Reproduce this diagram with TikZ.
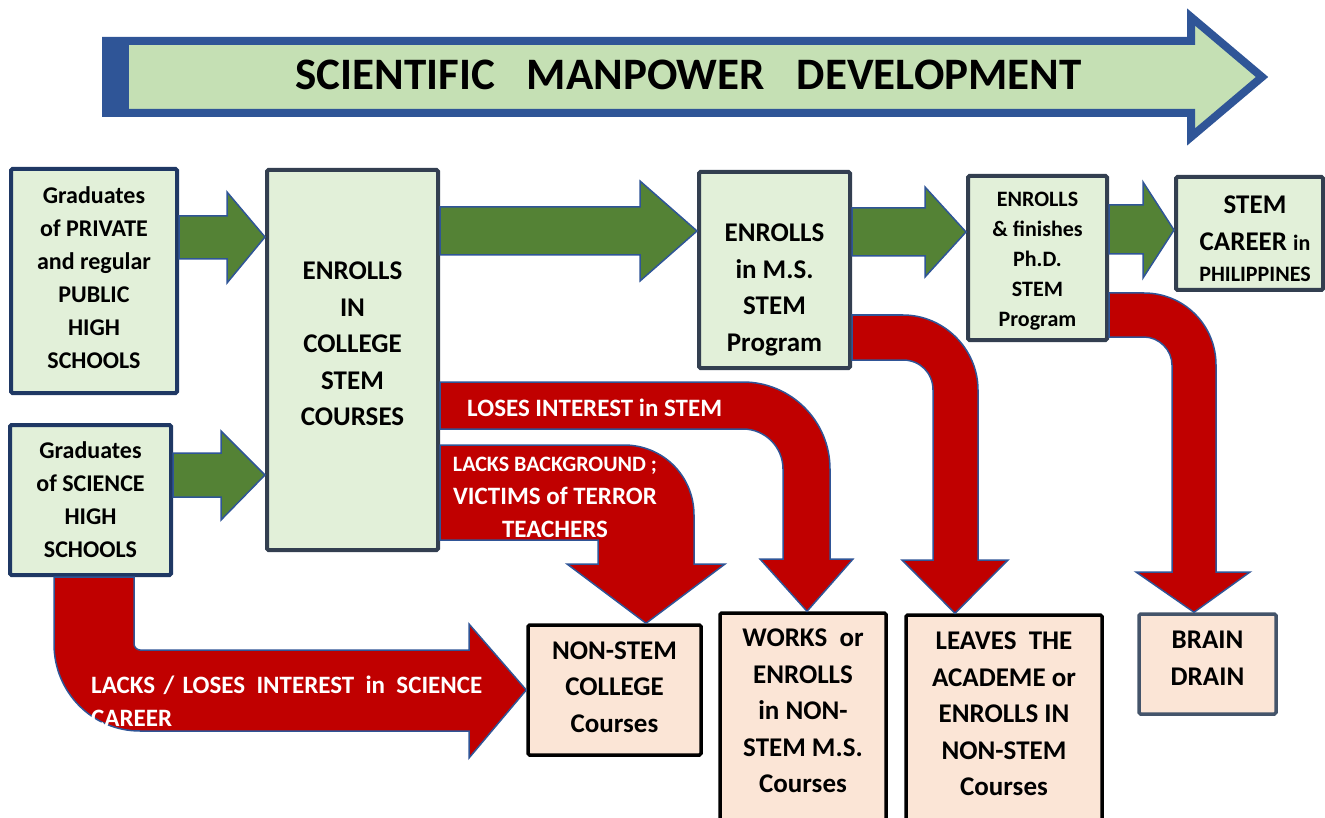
\documentclass[tikz,border=0pt]{standalone}
\usepackage{fontspec}
\setmainfont{Carlito}

\definecolor{titleblue}{HTML}{2F5597}
\definecolor{titlegreen}{HTML}{C5E0B4}
\definecolor{boxgreen}{HTML}{E2F0D9}
\definecolor{boxnavy}{HTML}{1F3864}
\definecolor{boxslate}{HTML}{333F50}
\definecolor{stemgreen}{HTML}{548235}
\definecolor{lossred}{HTML}{C00000}
\definecolor{peach}{HTML}{FBE5D6}
\definecolor{drainslate}{HTML}{44546A}

\tikzstyle{stembox} = [draw=boxslate, fill=boxgreen, line width=4pt, rounded corners=1.5pt, inner sep=0pt]
\tikzstyle{hsbox} = [stembox, draw=boxnavy]
\tikzstyle{exitbox} = [draw=black, fill=peach, line width=3.5pt, rounded corners=1.5pt, inner sep=0pt]
\tikzstyle{boxtext} = [align=center, inner sep=0pt, font=\bfseries\fontsize{27}{36.5}\selectfont]
\tikzstyle{smalltext} = [boxtext, font=\bfseries\fontsize{24}{33}\selectfont]
\tikzstyle{redtext} = [text=white, inner sep=0pt, font=\bfseries\fontsize{25}{33}\selectfont]
\tikzstyle{greenarrow} = [fill=stemgreen, draw=titleblue, line width=1.5pt]
\tikzstyle{redarrow} = [fill=lossred, draw=titleblue, line width=1.5pt]

\begin{document}
\begin{tikzpicture}[x=1pt, y=-1pt]
\useasboundingbox (0,0) rectangle (1325,818);
%\draw[step=50, very thin, black!20] (0,0) grid (1325,818);

% banner
\draw[titleblue, fill=titlegreen, line width=8pt] (106,41) -- (1191,41) -- (1191,17) -- (1262,77) -- (1191,137) -- (1191,113) -- (106,113) -- cycle;
\fill[titleblue] (102,37) rectangle (129,117);
\node[font=\bfseries\fontsize{45}{54}\selectfont, anchor=base] (banner) at (688.5,90) {SCIENTIFIC\hspace{32pt}MANPOWER\hspace{32pt}DEVELOPMENT};

% boxes
\node[hsbox, minimum width=166pt, minimum height=224pt] (private) at (94,281) {};
\node[stembox, minimum width=171pt, minimum height=380pt] (college) at (352.5,360) {};
\node[hsbox, minimum width=161pt, minimum height=150pt] (science) at (90.5,500) {};
\node[stembox, minimum width=151pt, minimum height=196pt] (msprog) at (774.5,270) {};
\node[stembox, minimum width=139pt, minimum height=164pt] (phdprog) at (1037.5,258) {};
\node[stembox, minimum width=147pt, minimum height=113pt] (career) at (1249.5,233.5) {};
\node[exitbox, minimum width=173pt, minimum height=130pt] (noncollege) at (614.5,690) {};
\node[exitbox, minimum width=166pt, minimum height=225pt] (works) at (803,725.5) {};
\node[exitbox, minimum width=196pt, minimum height=223pt] (leaves) at (1004,726.5) {};
\node[exitbox, draw=drainslate, minimum width=137pt, minimum height=100pt] (brain) at (1207.5,664) {};

% losses
\draw[redarrow] (college.east |- 0,382) -- (743,382) .. controls (791,382) and (830,421) .. (830,469) -- (830,559) -- (853,559) -- (works.north -| 807,0) -- (760,559) -- (783,559) -- (783,469) .. controls (783,447) and (765,429) .. (743,429) -- (college.east |- 0,429) -- cycle;
\draw[redarrow] (college.east |- 0,445) -- (624,445) .. controls (663,445) and (694,476) .. (694,515) -- (694,564) -- (725,564) -- (noncollege.north -| 646,0) -- (567,564) -- (598,564) -- (598,540) -- (college.east |- 0,540) -- cycle;
\draw[redarrow] (msprog.east |- 0,315) -- (903,315) .. controls (944,315) and (978,349) .. (978,390) -- (978,560) -- (1008,560) -- (leaves.north -| 955,0) -- (902,560) -- (933,560) -- (933,390) .. controls (933,373) and (920,360) .. (903,360) -- (msprog.east |- 0,360) -- cycle;
\draw[redarrow] (phdprog.east |- 0,293) -- (1144,293) .. controls (1184,293) and (1216,325) .. (1216,365) -- (1216,572) -- (1250,572) -- (brain.north -| 1194,0) -- (1136,572) -- (1172,572) -- (1172,365) .. controls (1172,350) and (1159,337) .. (1144,337) -- (phdprog.east |- 0,337) -- cycle;
\draw[redarrow] (science.south -| 54,0) -- (54,644) .. controls (54,692) and (92,731) .. (140,731) -- (469,731) -- (469,758) -- (noncollege.west) -- (469,624) -- (469,650) -- (140,650) .. controls (137,650) and (134,647) .. (134,644) -- (science.south -| 134,0) -- cycle;

% stem path
\draw[greenarrow] (private.east |- 0,216) -- (227,216) -- (227,192) -- (college.west |- 0,237) -- (227,283) -- (227,259) -- (private.east |- 0,259) -- cycle;
\draw[greenarrow] (science.east |- 0,453) -- (221,453) -- (221,431) -- (college.west |- 0,475) -- (221,520) -- (221,497) -- (science.east |- 0,497) -- cycle;
\draw[greenarrow] (college.east |- 0,207) -- (640,207) -- (640,181) -- (msprog.west |- 0,231) -- (640,281) -- (640,255) -- (college.east |- 0,255) -- cycle;
\draw[greenarrow] (msprog.east |- 0,208) -- (925,208) -- (925,187) -- (phdprog.west |- 0,232) -- (925,277) -- (925,256) -- (msprog.east |- 0,256) -- cycle;
\draw[greenarrow] (phdprog.east |- 0,205) -- (1143,205) -- (1143,182) -- (career.west |- 0,230) -- (1143,278) -- (1143,254) -- (phdprog.east |- 0,254) -- cycle;

% box texts
\node[smalltext] (privatetxt) at (94,278) {Graduates\\of PRIVATE\\and regular\\PUBLIC\\HIGH\\SCHOOLS};
\node[boxtext] (collegetxt) at (352.5,344) {ENROLLS\\IN\\COLLEGE\\STEM\\COURSES};
\node[smalltext] (sciencetxt) at (90.5,500) {Graduates\\of SCIENCE\\HIGH\\SCHOOLS};
\node[boxtext] (mstxt) at (774.5,290) {ENROLLS\\in M.S.\\STEM\\Program};
\node[boxtext, font=\bfseries\fontsize{22}{30}\selectfont] (phdtxt) at (1037.5,261) {ENROLLS\\\& finishes\\Ph.D.\\STEM\\Program};
\node[boxtext] (careertxt) at (1255,239) {STEM\\CAREER {\fontsize{22}{30}\selectfont in}\\[-5pt]{\fontsize{22}{30}\selectfont PHILIPPINES}};
\node[boxtext] (noncollegetxt) at (614.5,687) {NON-STEM\\COLLEGE\\Courses};
\node[boxtext] (workstxt) at (803,711) {WORKS\ \ or\\ENROLLS\\in NON-\\STEM M.S.\\Courses};
\node[boxtext] (leavestxt) at (1004,714) {LEAVES\ \ THE\\ACADEME or\\ENROLLS IN\\NON-STEM\\Courses};
\node[boxtext] (braintxt) at (1207.5,658) {BRAIN\\DRAIN};

% loss texts
\node[redtext, anchor=base west] (losestxt) at (467,416) {LOSES INTEREST in STEM};
\node[redtext, align=center] (lackstxt) at (555,497) {{\fontsize{22}{33}\selectfont LACKS BACKGROUND ;}\\VICTIMS of TERROR\\TEACHERS};
\node[redtext, text width=391pt, align=left, anchor=west] (sciencelosstxt) at (91,701) {LACKS / LOSES\hfill INTEREST\hfill in\hfill SCIENCE\\CAREER};
\end{tikzpicture}
\end{document}
